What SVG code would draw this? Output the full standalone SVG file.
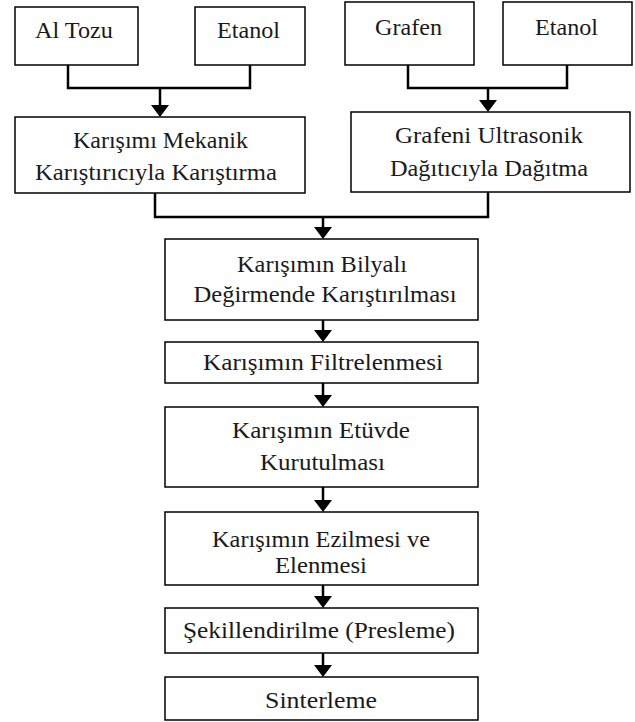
<svg xmlns="http://www.w3.org/2000/svg" width="635" height="722" viewBox="0 0 635 722">
<style>
.box{fill:#fff;stroke:#000;stroke-width:1.5}
.t{font-family:"Liberation Serif","Times New Roman",serif;font-size:23px;fill:#1a1a1a;text-anchor:middle}
.c{fill:none;stroke:#000;stroke-width:2.5}
.ah{fill:#000}
</style>
<defs>
<path id="head" d="M-9,-12 L9,-12 L0,0 Z"/>
</defs>
<rect width="635" height="722" fill="#fff"/>
<g id="connectors">
<polyline class="c" points="68,65 68,88 250,88 250,65"/>
<polyline class="c" points="408,65 408,88 567,88 567,65"/>
<polyline class="c" points="155,193 155,217 488,217 488,192"/>
<line class="c" x1="160" y1="88" x2="160" y2="106"/><use href="#head" class="ah" x="160" y="117"/>
<line class="c" x1="488" y1="88" x2="488" y2="101"/><use href="#head" class="ah" x="488" y="112"/>
<line class="c" x1="323" y1="217" x2="323" y2="228"/><use href="#head" class="ah" x="323" y="239"/>
<line class="c" x1="323" y1="320" x2="323" y2="331"/><use href="#head" class="ah" x="323" y="342"/>
<line class="c" x1="323" y1="383" x2="323" y2="396"/><use href="#head" class="ah" x="323" y="407"/>
<line class="c" x1="323" y1="487" x2="323" y2="501"/><use href="#head" class="ah" x="323" y="512"/>
<line class="c" x1="323" y1="585" x2="323" y2="597"/><use href="#head" class="ah" x="323" y="608"/>
<line class="c" x1="323" y1="653" x2="323" y2="666"/><use href="#head" class="ah" x="323" y="677"/>
</g>
<g id="n-altozu"><rect class="box" x="15" y="7" width="123" height="58"/><text class="t" x="74" y="38" textLength="78" lengthAdjust="spacingAndGlyphs">Al Tozu</text></g>
<g id="n-etanol1"><rect class="box" x="195" y="7" width="110" height="58"/><text class="t" x="248.5" y="38" textLength="63" lengthAdjust="spacingAndGlyphs">Etanol</text></g>
<g id="n-grafen"><rect class="box" x="345" y="2" width="129" height="63"/><text class="t" x="408.5" y="35" textLength="67" lengthAdjust="spacingAndGlyphs">Grafen</text></g>
<g id="n-etanol2"><rect class="box" x="503" y="2" width="129" height="63"/><text class="t" x="566.5" y="35" textLength="63" lengthAdjust="spacingAndGlyphs">Etanol</text></g>
<g id="n-mekanik"><rect class="box" x="15" y="117" width="290" height="76"/>
<text class="t" x="160.5" y="148" textLength="175" lengthAdjust="spacingAndGlyphs">Karışımı Mekanik</text>
<text class="t" x="156" y="180" textLength="242" lengthAdjust="spacingAndGlyphs">Karıştırıcıyla Karıştırma</text></g>
<g id="n-ultrasonik"><rect class="box" x="351" y="112" width="279" height="80"/>
<text class="t" x="489" y="143" textLength="188" lengthAdjust="spacingAndGlyphs">Grafeni Ultrasonik</text>
<text class="t" x="489" y="176" textLength="198" lengthAdjust="spacingAndGlyphs">Dağıtıcıyla Dağıtma</text></g>
<g id="n-bilyali"><rect class="box" x="165" y="239" width="313" height="81"/>
<text class="t" x="322" y="272" textLength="170" lengthAdjust="spacingAndGlyphs">Karışımın Bilyalı</text>
<text class="t" x="325" y="302" textLength="263" lengthAdjust="spacingAndGlyphs">Değirmende Karıştırılması</text></g>
<g id="n-filtre"><rect class="box" x="165" y="342" width="313" height="41"/>
<text class="t" x="323" y="370" textLength="240" lengthAdjust="spacingAndGlyphs">Karışımın Filtrelenmesi</text></g>
<g id="n-etuv"><rect class="box" x="165" y="407" width="313" height="80"/>
<text class="t" x="321" y="438" textLength="178" lengthAdjust="spacingAndGlyphs">Karışımın Etüvde</text>
<text class="t" x="322.5" y="470" textLength="125" lengthAdjust="spacingAndGlyphs">Kurutulması</text></g>
<g id="n-ezilme"><rect class="box" x="165" y="512" width="313" height="73"/>
<text class="t" x="321" y="547" textLength="218" lengthAdjust="spacingAndGlyphs">Karışımın Ezilmesi ve</text>
<text class="t" x="321" y="573" textLength="92" lengthAdjust="spacingAndGlyphs">Elenmesi</text></g>
<g id="n-presleme"><rect class="box" x="165" y="608" width="313" height="45"/>
<text class="t" x="319" y="638" textLength="272" lengthAdjust="spacingAndGlyphs">Şekillendirilme (Presleme)</text></g>
<g id="n-sinter"><rect class="box" x="165" y="677" width="313" height="43"/>
<text class="t" x="321" y="708" textLength="112" lengthAdjust="spacingAndGlyphs">Sinterleme</text></g>
</svg>
